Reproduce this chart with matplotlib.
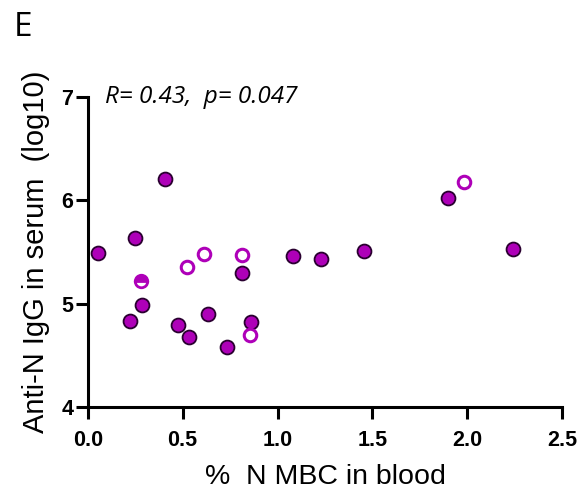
import matplotlib
matplotlib.use("Agg")
import matplotlib.pyplot as plt

filled_x = [0.053, 0.248, 0.406, 0.286, 0.225, 0.473, 0.534, 0.633, 0.733, 0.861, 0.812, 1.08, 1.227, 1.456, 1.90, 2.24]
filled_y = [5.49, 5.63, 6.21, 4.99, 4.83, 4.79, 4.68, 4.90, 4.58, 4.82, 5.30, 5.46, 5.43, 5.51, 6.02, 5.53]
open_x = [0.524, 0.613, 0.812, 0.853, 1.98]
open_y = [5.35, 5.48, 5.47, 4.70, 6.18]
half_x = [0.278]
half_y = [5.22]
xticks = [0.0, 0.5, 1.0, 1.5, 2.0, 2.5]
yticks = [4, 5, 6, 7]

plt.rcParams['font.family'] = ['Liberation Sans', 'DejaVu Sans']
mag = '#AE00B8'
edge = '#2a0030'

fig = plt.figure(figsize=(5.85, 4.94), dpi=100)
ax = fig.add_axes([0.150, 0.176, 0.811, 0.628])

ax.plot(filled_x, filled_y, 'o', ms=10, mfc=mag, mec=edge, mew=1.3, ls='none', clip_on=False)
ax.plot(open_x, open_y, 'o', ms=9, mfc='white', mec=mag, mew=2.2, ls='none', clip_on=False)
ax.plot(half_x, half_y, 'o', ms=9, fillstyle='top', mfc=mag, mfcalt='white', mec=mag, mew=2.0, ls='none')

ax.set_xlim(0, 2.5)
ax.set_ylim(4, 7)
ax.set_xticks(xticks)
ax.set_xticklabels([f"{v:.1f}" for v in xticks], fontweight='bold', fontsize=15.5)
ax.set_yticks(yticks)
ax.set_yticklabels([str(v) for v in yticks], fontweight='bold', fontsize=15.5)
for s in ['top', 'right']:
    ax.spines[s].set_visible(False)
for s in ['left', 'bottom']:
    ax.spines[s].set_linewidth(2.2)
ax.tick_params(width=2.2, length=8.5, direction='out')
ax.tick_params(axis='x', pad=8)
ax.tick_params(axis='y', pad=2)

ax.set_xlabel('%  N MBC in blood', fontsize=20.5)
ax.xaxis.set_label_coords(0.5, -0.182)
ax.set_ylabel('Anti-N IgG in serum  (log10)', fontsize=21)
ax.yaxis.set_label_coords(-0.08, 0.5)

ax.text(0.09, 7.0, 'R= 0.43,  p= 0.047', fontsize=17.5, style='italic', family=['Open Sans', 'DejaVu Sans'], va='center', ha='left')
fig.text(0.024, 0.945, 'E', fontsize=24, family=['Open Sans', 'DejaVu Sans'], va='center')

fig.savefig('out.png', dpi=100)
